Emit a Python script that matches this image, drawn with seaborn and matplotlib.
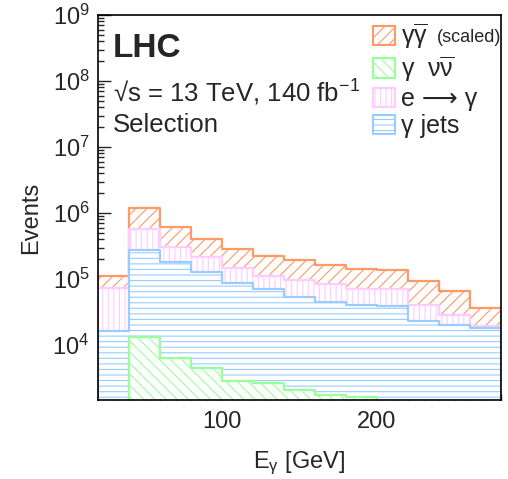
import numpy as np
import matplotlib
matplotlib.use("Agg")
import matplotlib.pyplot as plt
import matplotlib.ticker as mticker
from matplotlib.patches import Patch
import seaborn as sns

# binning (GeV)
bin_edges = [20, 40, 60, 80, 100, 120, 140, 160, 180, 200, 220, 240, 260, 280]
bin_centers = [30, 50, 70, 90, 110, 130, 150, 170, 190, 210, 230, 250, 270]

# per-process yields, stacked bottom to top
gamma_jets = [1.63e4, 2.78e5, 1.78e5, 1.26e5, 8.67e4, 7.0e4, 5.42e4, 4.5e4, 4.05e4, 3.96e4, 2.29e4, 1.99e4, 1.81e4]
e_to_gamma = [5.64e4, 2.95e5, 1.27e5, 8.6e4, 6.1e4, 4.2e4, 4.3e4, 3.86e4, 2.95e4, 3.04e4, 1.71e4, 8.4e3, 1.3e3]
gamma_gamma = [3.9e4, 6.3e5, 3.0e5, 1.96e5, 1.4e5, 1.13e5, 9.7e4, 8.0e4, 7.1e4, 6.5e4, 5.4e4, 3.85e4, 1.67e4]
# overlaid, not stacked
gamma_nunu = [0, 1.34e4, 6.3e3, 4.5e3, 2.9e3, 2.67e3, 2.12e3, 1.74e3, 1.64e3, 1.1e3, 9e2, 7e2, 5e2]

colors = {
    "gg": "#ff9966",
    "nn": "#99ff99",
    "eg": "#ffccff",
    "gj": "#99ccff",
}

sns.set_style("ticks")
plt.rcParams["font.family"] = ["Liberation Sans", "DejaVu Sans"]
plt.rcParams["mathtext.fontset"] = "custom"
plt.rcParams["mathtext.rm"] = "Liberation Sans"
plt.rcParams["mathtext.it"] = "Liberation Sans"
plt.rcParams["mathtext.bf"] = "Liberation Sans:bold"
plt.rcParams["hatch.linewidth"] = 0.8

fig = plt.figure(figsize=(5.08, 4.79), dpi=100)
ax = fig.add_axes([98 / 508, 79 / 479, 403 / 508, 385 / 479])

gj = np.array(gamma_jets)
eg = gj + np.array(e_to_gamma)
gg = eg + np.array(gamma_gamma)

# cumulative stack, drawn from the top down so each layer covers the one above
layers = [
    (gg, colors["gg"], "///"),
    (eg, colors["eg"], "|||"),
    (gj, colors["gj"], "---"),
    (np.array(gamma_nunu), colors["nn"], "\\\\\\"),
]
for vals, col, hatch in layers:
    sns.histplot(
        x=bin_centers, weights=vals, bins=bin_edges, ax=ax,
        element="step", fill=True, facecolor="white", edgecolor=col,
        hatch=hatch, linewidth=1.6, alpha=1,
    )

ax.set_yscale("log")
ax.set_xlim(20, 280)
ax.set_ylim(1470, 1e9)

ax.xaxis.set_major_locator(mticker.MultipleLocator(100))
ax.xaxis.set_minor_locator(mticker.MultipleLocator(10))
ax.yaxis.set_major_locator(mticker.LogLocator(base=10))
ax.yaxis.set_minor_locator(mticker.LogLocator(base=10, subs=np.arange(2, 10)))
ax.yaxis.set_minor_formatter(mticker.NullFormatter())

ax.tick_params(which="both", direction="in", top=False, right=False, labelsize=17, width=1.0)
ax.tick_params(which="major", length=9)
ax.tick_params(which="minor", length=4.5)
ax.tick_params(axis="x", which="major", pad=8)
ax.tick_params(axis="y", which="major", pad=6)
for sp in ax.spines.values():
    sp.set_linewidth(1.2)
    sp.set_color("black")
    sp.set_visible(True)

ax.set_xlabel("E$_{\\gamma}$ [GeV]", fontsize=17, labelpad=12)
ax.set_ylabel("Events", fontsize=17)
ax.yaxis.set_label_coords(-0.139, 0.473)

ax.text(0.037, 0.891, "LHC", transform=ax.transAxes, fontsize=24, fontweight="bold", va="baseline")
ax.text(0.037, 0.774, "\u221as = 13 TeV, 140 fb$^{-1}$", transform=ax.transAxes, fontsize=18.5, va="baseline")
ax.text(0.037, 0.696, "Selection", transform=ax.transAxes, fontsize=18.5, va="baseline")

handles = [
    Patch(facecolor="white", edgecolor=colors["gg"], hatch="///", linewidth=1.5),
    Patch(facecolor="white", edgecolor=colors["nn"], hatch="\\\\\\", linewidth=1.5),
    Patch(facecolor="white", edgecolor=colors["eg"], hatch="|||", linewidth=1.5),
    Patch(facecolor="white", edgecolor=colors["gj"], hatch="---", linewidth=1.5),
]
labels = [
    "$\\gamma\\overline{\\gamma}$",
    "$\\gamma\\ \\ \\nu\\overline{\\nu}$",
    "e \u27f6 \u03b3",
    "\u03b3 jets",
]
ax.legend(handles, labels, loc="upper left", bbox_to_anchor=(0.668, 1.0), frameon=False,
          fontsize=18, handlelength=0.85, handleheight=0.8, handletextpad=0.25,
          labelspacing=0.13, borderaxespad=0.0, borderpad=0.25)
fig.text(437 / 508, 1 - 42 / 479, "(scaled)", fontsize=13, va="baseline")

fig.savefig("out.png", dpi=100)
